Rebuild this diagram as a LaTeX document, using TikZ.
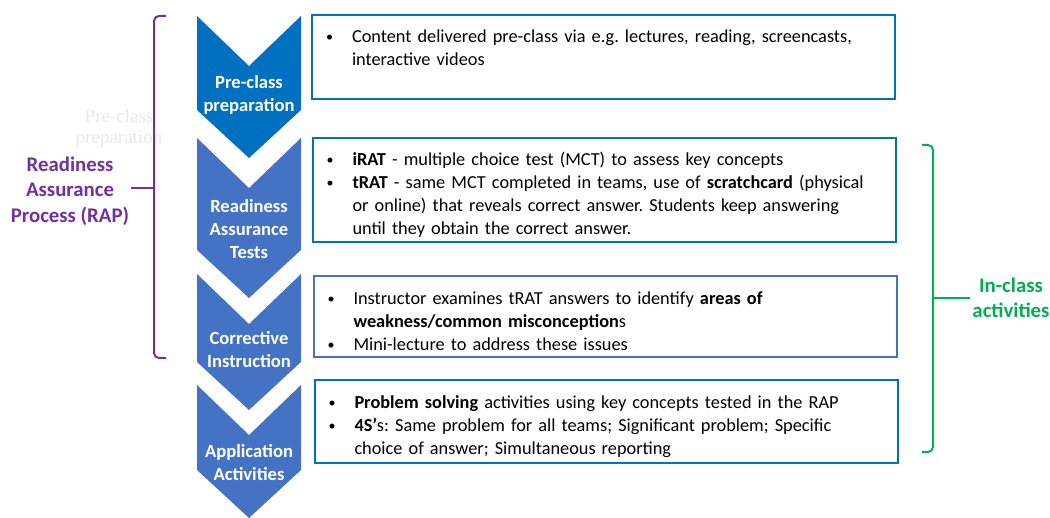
\documentclass[tikz,border=0pt]{standalone}
\usepackage{fontspec}
\setmainfont{Carlito}
\newfontfamily\ghostfont{Liberation Serif}
\usetikzlibrary{positioning,calc}

\definecolor{darkblue}{RGB}{0,112,192}
\definecolor{midblue}{RGB}{68,114,196}
\definecolor{rappurple}{RGB}{112,48,160}
\definecolor{classgreen}{RGB}{0,176,80}

% bullet paragraph with hanging indent
\newcommand{\bitem}{\par\hangindent=26pt\hangafter=1\noindent\makebox[26pt][l]{\raisebox{1pt}{\fontsize{14}{14}\selectfont\textbullet}}}
\newcommand{\linebrk}{\hfil\break}
% chevron: top y, bottom y of the sides, colour
\newcommand{\chevron}[3]{\fill[#3] (197,#1) -- (249,#1+50) -- (301,#1) -- (301,#2) -- (249,#2+48) -- (197,#2) -- cycle;}

\begin{document}
\begin{tikzpicture}[x=1pt, y=-1pt]
    \tikzstyle{stagelabel} = [text=white, font=\fontsize{18.6}{23}\selectfont\bfseries, align=center, inner sep=0pt]
    \tikzstyle{infobox} = [rectangle, draw=darkblue, line width=2pt, text width=555pt, inner xsep=14pt, inner ysep=0pt, font=\fontsize{18.3}{23}\selectfont\frenchspacing]
    \tikzstyle{bracket} = [line width=2pt, rounded corners=5pt]
    \tikzstyle{sidelabel} = [font=\fontsize{20.8}{25.5}\selectfont\bfseries, align=center, inner sep=2pt]

    \useasboundingbox (0,0) rectangle (1050,518);

    % Chevrons
    \chevron{16}{110}{darkblue}
    \chevron{138}{250}{midblue}
    \chevron{274}{362}{midblue}
    \chevron{385}{470}{midblue}

    \node [stagelabel] (prep) at (249,95) {Pre-class\\preparation};
    \node [stagelabel] (rat) at (249,229) {Readiness\\Assurance\\Tests};
    \node [stagelabel] (corr) at (249,350) {Corrective\\Instruction};
    \node [stagelabel] (appl) at (249,463) {Application\\Activities};

    % Faint text behind
    \node [text=black!9, font=\ghostfont\fontsize{19}{21}\selectfont, align=center] (ghost) at (119,128) {Pre-class\\preparation};

    % Boxes
    \node [infobox, minimum height=84pt] (content) at (603.5,57) {\bitem Content delivered pre-class via e.g. lectures, reading, screencasts,\linebrk interactive videos\linebrk\strut\par};
    \node [infobox, minimum height=104pt] (tests) at (604,190) {\bitem \textbf{iRAT} - multiple choice test (MCT) to assess key concepts
        \bitem \textbf{tRAT} - same MCT completed in teams, use of \textbf{scratchcard} (physical\linebrk or online) that reveals correct answer. Students keep answering\linebrk until they obtain the correct answer.\par};
    \node [infobox, draw=midblue, minimum height=81pt] (review) at (605,316.5) {\bitem Instructor examines tRAT answers to identify \textbf{areas of}\linebrk \textbf{weakness/common misconception}s
        \bitem Mini-lecture to address these issues\par};
    \node [infobox, minimum height=83pt] (apply) at (606,421.5) {\bitem \textbf{Problem solving} activities using key concepts tested in the RAP
        \bitem \textbf{4S'}s: Same problem for all teams; Significant problem; Specific\linebrk choice of answer; Simultaneous reporting\par};

    % Side labels
    \node [sidelabel, text=rappurple] (rap) at (70,191) {Readiness\\Assurance\\Process (RAP)};
    \node [sidelabel, text=classgreen] (inclass) at (1011,298) {In-class\\activities};

    % Brackets
    \coordinate (raptop) at (166,16);
    \coordinate (rapbot) at (166,358);
    \coordinate (rapmid) at (154,188);
    \draw [bracket, rappurple] (raptop) -| (rapmid) |- (rapbot);
    \draw [line width=2pt, rappurple] (rapmid) -- (rap.east |- rapmid);

    \coordinate (classtop) at (922,145);
    \coordinate (classbot) at (922,452);
    \coordinate (classmid) at (933,298);
    \draw [bracket, classgreen] (classtop) -| (classmid) |- (classbot);
    \draw [line width=2pt, classgreen] (classmid) -- (inclass.west |- classmid);
\end{tikzpicture}
\end{document}
